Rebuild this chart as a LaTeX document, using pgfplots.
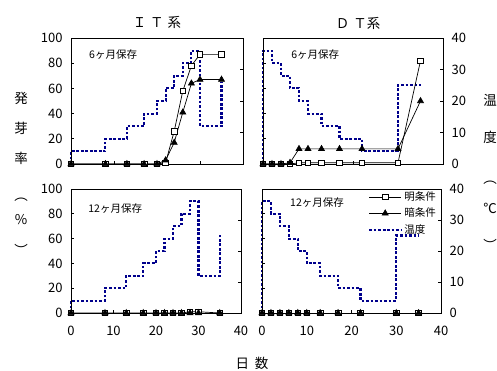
\documentclass[border=0pt]{standalone}
\usepackage{fontspec}
\setmainfont{Noto Sans CJK JP}
\usepackage{pgfplots}
\pgfplotsset{compat=1.18}
\definecolor{tempblue}{RGB}{0,0,140}
\pgfplotsset{
  base/.style={
    scale only axis,
    xmin=0,xmax=40,
    xtick={0,10,20,30,40},
    major tick length=3pt,
    tick style={black, line width=0.6pt},
    axis line style={black, line width=0.8pt},
    tick label style={font=\fontsize{13}{13}\selectfont},
    /pgf/number format/assume math mode=true,
    xticklabel style={yshift=-10pt},
  },
  pct/.style={base, ymin=0,ymax=100,ytick={0,20,40,60,80,100}, xtick pos=left, ytick pos=left,
    yticklabel style={xshift=-5pt}},
  tmp/.style={base, ymin=0,ymax=40,ytick={0,10,20,30,40}, axis y line*=right, axis x line=none, clip=false,
    yticklabel style={xshift=5pt}},
  light/.style={black, line width=0.7pt, mark=square*, mark options={fill=white, solid}, mark size=2.8pt},
  dark/.style={black, line width=0.7pt, mark=triangle*, mark options={fill=black, solid}, mark size=3.4pt},
  temp/.style={tempblue, line width=2.1pt, dash pattern=on 2.7pt off 1.8pt, mark=none},
  noxlab/.style={xticklabels={}},
  noylab/.style={yticklabels={}},
}
\newcommand{\plab}{\fontsize{10.5}{10.5}\selectfont}
\newcommand{\blab}{\fontsize{13.5}{13.5}\selectfont}
\begin{document}
\begin{tikzpicture}
\useasboundingbox (0,0) rectangle (497pt,371pt);
% ---------- top-left (IT, 6 months) ----------
\begin{axis}[tmp, noylab, at={(71pt,207pt)}, anchor=south west, width=172pt, height=126pt]
\addplot[temp] coordinates {(0,0)(0,4)(8,4)(8,8)(13,8)(13,12)(17,12)(17,16)(20,16)(20,20)(22,20)(22,24)(24,24)(24,28)(26,28)(26,32)(28,32)(28,36)(30,36)(30,12)(35,12)(35,26)};
\end{axis}
\begin{axis}[pct, noxlab, at={(71pt,207pt)}, anchor=south west, width=172pt, height=126pt]
\addplot[light] coordinates {(0,0)(8,0)(13,0)(17,0)(20,0)(22,1)(24,26)(26,58)(28,78)(30,87)(35,87)};
\addplot[dark] coordinates {(0,0)(8,0)(13,0)(17,0)(20,0)(22,3)(24,17)(26,41)(28,64)(30,67)(35,67)};
\node[font=\plab] at (axis cs:9.8,86.5) {6ヶ月保存};
\end{axis}
% ---------- top-right (DT, 6 months) ----------
\begin{axis}[tmp, at={(263pt,207pt)}, anchor=south west, width=180pt, height=126pt]
\addplot[temp] coordinates {(0,0)(0,36)(2,36)(2,32)(4,32)(4,28)(6,28)(6,24)(8,24)(8,20)(10,20)(10,16)(13,16)(13,12)(17,12)(17,8)(22,8)(22,4)(30,4)(30,25)(35,25)};
\end{axis}
\begin{axis}[pct, noxlab, noylab, at={(263pt,207pt)}, anchor=south west, width=180pt, height=126pt]
\addplot[light] coordinates {(0,0)(2,0)(4,0)(6,0)(8,1)(10,1)(13,1)(17,1)(22,1)(30,1)(35,82)};
\addplot[dark] coordinates {(0,0)(2,0)(4,0)(6,1)(8,12)(10,12)(13,12)(17,12)(22,12)(30,12)(35,50)};
\node[font=\plab] at (axis cs:11.6,86.5) {6ヶ月保存};
\end{axis}
% ---------- bottom-left (IT, 12 months) ----------
\begin{axis}[tmp, noylab, at={(71pt,58pt)}, anchor=south west, width=170pt, height=124pt]
\addplot[temp] coordinates {(0,0)(0,4)(8,4)(8,8)(13,8)(13,12)(17,12)(17,16)(20,16)(20,20)(22,20)(22,24)(24,24)(24,28)(26,28)(26,32)(28,32)(28,36)(30,36)(30,12)(35,12)(35,25)};
\end{axis}
\begin{axis}[pct, at={(71pt,58pt)}, anchor=south west, width=170pt, height=124pt]
\addplot[light] coordinates {(0,0)(8,0)(13,0)(17,0)(20,0)(22,0)(24,0)(26,0)(28,1)(30,1)(35,0)};
\addplot[dark] coordinates {(0,0)(8,0)(13,0)(17,0)(20,0)(22,0)(24,0)(26,0)(28,0)(30,0)(35,0)};
\node[font=\plab] at (axis cs:10.4,84) {12ヶ月保存};
\end{axis}
% ---------- bottom-right (DT, 12 months) ----------
\begin{axis}[tmp, at={(262pt,58pt)}, anchor=south west, width=179pt, height=124pt]
\addplot[temp] coordinates {(0,0)(0,36)(2,36)(2,32)(4,32)(4,28)(6,28)(6,24)(8,24)(8,20)(10,20)(10,16)(13,16)(13,12)(17,12)(17,8)(22,8)(22,4)(30,4)(30,25)(35,25)};
\end{axis}
\begin{axis}[pct, noylab, at={(262pt,58pt)}, anchor=south west, width=179pt, height=124pt,
  legend style={draw=none, fill=none, font=\plab, at={(rel axis cs:0.592,0.995)}, anchor=north west,
    row sep=2pt, inner sep=0pt},
  legend cell align=left,
  legend image code/.code={\draw[mark repeat=2,mark phase=2,#1] plot coordinates {(0pt,0pt) (16pt,0pt) (32pt,0pt)};}]
\addplot[light] coordinates {(0,0)(2,0)(4,0)(6,0)(8,0)(10,0)(13,0)(17,0)(22,0)(30,0)(35,0)};
\addlegendentry{明条件}
\addplot[dark] coordinates {(0,0)(2,0)(4,0)(6,0)(8,0)(10,0)(13,0)(17,0)(22,0)(30,0)(35,0)};
\addlegendentry{暗条件}
\addlegendimage{temp}
\addlegendentry{温度}
\node[font=\plab] at (axis cs:12.3,88.7) {12ヶ月保存};
\end{axis}
% ---------- titles and axis labels ----------
\node[font=\blab] at (157pt,349pt) {Ｉ\hspace{4pt}Ｔ\hspace{4pt}系};
\node[font=\blab] at (358pt,348pt) {Ｄ\hspace{4pt}Ｔ系};
\node[font=\blab] at (21pt,273pt) {発};
\node[font=\blab] at (21pt,243pt) {芽};
\node[font=\blab] at (21pt,213pt) {率};
\node[font=\blab] at (21pt,171pt) {︵};
\node[font=\blab] at (21pt,151pt) {\%};
\node[font=\blab] at (21pt,121pt) {︶};
\node[font=\blab] at (490pt,271pt) {温};
\node[font=\blab] at (490pt,234pt) {度};
\node[font=\blab] at (490pt,188pt) {︵};
\node[font=\blab] at (490pt,163pt) {℃};
\node[font=\blab] at (490pt,126pt) {︶};
\node[font=\blab] at (252pt,8pt) {日\hspace{6pt}数};
\end{tikzpicture}
\end{document}
